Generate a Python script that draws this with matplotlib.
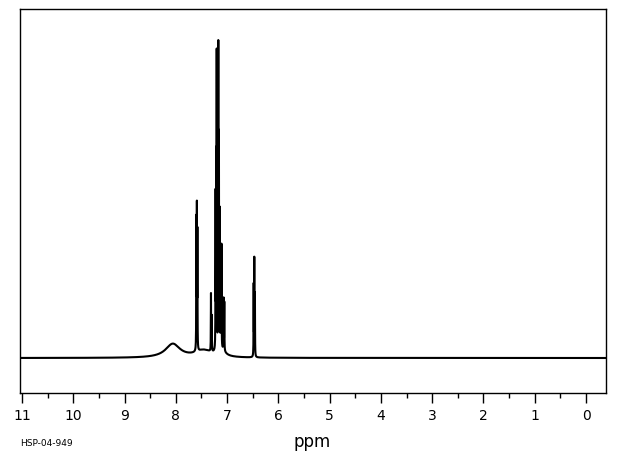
import numpy as np
import matplotlib.pyplot as plt

# peak list: shift (ppm), height (rel.), half width (ppm)
peak_ppm = [8.06, 7.45, 7.10,
            7.600, 7.590, 7.580,
            7.315, 7.300,
            7.225, 7.212, 7.203, 7.172, 7.160, 7.145, 7.125, 7.110, 7.068, 7.055,
            6.482, 6.470, 6.458]
peak_height = [4.3, 2.2, 1.8,
               40, 43, 36,
               18, 11,
               48, 56, 90, 94, 64, 42, 28, 32, 16, 15,
               22, 30, 19]
peak_hwhm = [0.17, 0.20, 0.08,
             0.0025, 0.0025, 0.0025,
             0.0025, 0.0025,
             0.0025, 0.0025, 0.0025, 0.0025, 0.0025, 0.0025, 0.0025, 0.0025, 0.0025, 0.0025,
             0.0025, 0.0025, 0.0025]

tick_major = list(range(0, 12))
tick_minor = [x + 0.5 for x in range(0, 11)]
sample_id = 'HSP-04-949'

#Build trace from the peak list (Lorentzian lines)
ppm = np.linspace(-0.5, 11.2, 80000)
intensity = np.zeros_like(ppm)
for c, h, w in zip(peak_ppm, peak_height, peak_hwhm):
    intensity += h * w**2 / ((ppm - c)**2 + w**2)

fig = plt.figure(figsize=(6.2, 4.55), dpi=100)
ax = fig.add_axes([20/620, 62/455, 586/620, 384/455])
ax.plot(ppm, intensity, color='black', lw=1.5)

ax.set_xlim(11.04, -0.39)
ax.set_ylim(-11.0, 109.7)
ax.set_xticks(tick_major)
ax.set_xticks(tick_minor, minor=True)
ax.set_xticklabels([str(t) for t in tick_major])
ax.set_yticks([])
ax.tick_params(axis='x', which='major', direction='out', length=7.2, width=1, pad=4, labelsize=10)
ax.tick_params(axis='x', which='minor', direction='out', length=3.6, width=1)
for s in ax.spines.values():
    s.set_linewidth(1.0)

fig.text(312/620, 1 - 442/455, 'ppm', ha='center', va='center', fontsize=12)
fig.text(20/620, 1 - 444/455, sample_id, ha='left', va='center', fontsize=6.5)

fig.savefig('out.png', dpi=100)
